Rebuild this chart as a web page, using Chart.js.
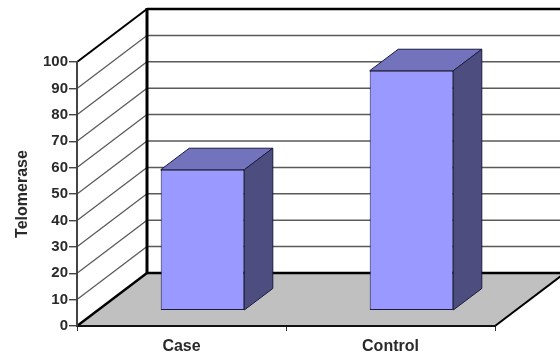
<!DOCTYPE html>
<html>
<head>
<meta charset="utf-8">
<script src="https://cdn.jsdelivr.net/npm/chart.js@4/dist/chart.umd.js"></script>
<style>
html,body{margin:0;padding:0;background:#fff;}
canvas{display:block;}
</style>
</head>
<body>
<canvas id="chart" width="560" height="354"></canvas>
<script>
const categories = ['Case', 'Control'];
const telomerase = [53.4, 90.9];
const axisMin = 0;
const axisMax = 100;
const axisStep = 10;

// Oblique projection of the box: floor depth, and how far bars sit inside it.
const WALL_DX = 70, WALL_DY = -53;
const BAR_DX = 21, BAR_DY = -15.3;
const SIDE_DX = 28.5, SIDE_DY = -21.5;

const FLOOR = '#c0c0c0';
const BAR_FRONT = '#9999ff';
const BAR_TOP = '#7272bd';
const BAR_SIDE = '#4d4d80';
const BAR_EDGE = '#1c1c40';
const GRID = '#5a5a5a';
const INK = '#2a2a2a';

function line(ctx, x1, y1, x2, y2, color, width) {
  ctx.beginPath();
  ctx.moveTo(x1, y1);
  ctx.lineTo(x2, y2);
  ctx.strokeStyle = color;
  ctx.lineWidth = width;
  ctx.stroke();
}

function poly(ctx, pts, fill, edge) {
  ctx.beginPath();
  pts.forEach((p, i) => i ? ctx.lineTo(p[0], p[1]) : ctx.moveTo(p[0], p[1]));
  ctx.closePath();
  ctx.fillStyle = fill;
  ctx.fill();
  if (edge) {
    ctx.strokeStyle = edge;
    ctx.lineWidth = 1;
    ctx.lineJoin = 'round';
    ctx.stroke();
  }
}

// Floor, back wall and side wall, laid out from the value scale.
const box3d = {
  id: 'box3d',
  beforeDraw(chart) {
    const { ctx, scales: { x, y }, chartArea: a } = chart;
    const yBase = y.getPixelForValue(axisMin);
    const yTop = y.getPixelForValue(axisMax);
    const backX = a.left + WALL_DX;
    ctx.save();
    poly(ctx, [[a.left, yBase], [a.right, yBase], [a.right + WALL_DX, yBase + WALL_DY], [backX, yBase + WALL_DY]], FLOOR);
    y.ticks.forEach(t => {
      if (t.value === axisMin || t.value === axisMax) return;
      const py = y.getPixelForValue(t.value);
      line(ctx, a.left, py, backX, py + WALL_DY, GRID, 1.3);
      line(ctx, backX, py + WALL_DY, chart.width, py + WALL_DY, GRID, 1.5);
    });
    line(ctx, a.left, yTop, backX, yTop + WALL_DY, '#000', 2);
    line(ctx, backX, yTop + WALL_DY, chart.width, yTop + WALL_DY, '#000', 2.4);
    line(ctx, backX, yTop + WALL_DY - 1, backX, yBase + WALL_DY, '#000', 3);
    line(ctx, backX, yBase + WALL_DY, chart.width, yBase + WALL_DY, '#000', 2.4);
    line(ctx, a.left, yBase, backX, yBase + WALL_DY, '#000', 2.4);
    line(ctx, a.right, yBase, a.right + WALL_DX, yBase + WALL_DY, '#000', 2);
    ctx.restore();
  },
  // The library's bars form the front faces; slide them into the box.
  beforeDatasetDraw(chart) {
    chart.ctx.save();
    chart.ctx.translate(BAR_DX, BAR_DY);
  },
  afterDatasetDraw(chart, args) {
    const { ctx } = chart;
    chart.getDatasetMeta(args.index).data.forEach(bar => {
      const l = bar.x - bar.width / 2, r = bar.x + bar.width / 2;
      const t = bar.y, b = bar.base;
      poly(ctx, [[l, t], [r, t], [r + SIDE_DX, t + SIDE_DY], [l + SIDE_DX, t + SIDE_DY]], BAR_TOP, BAR_EDGE);
      poly(ctx, [[r, t], [r + SIDE_DX, t + SIDE_DY], [r + SIDE_DX, b + SIDE_DY], [r, b]], BAR_SIDE, BAR_EDGE);
    });
    ctx.restore();
  }
};

new Chart(document.getElementById('chart'), {
  type: 'bar',
  data: {
    labels: categories,
    datasets: [{
      label: 'Telomerase',
      data: telomerase,
      backgroundColor: BAR_FRONT,
      borderColor: BAR_EDGE,
      borderWidth: 1,
      borderSkipped: false,
      categoryPercentage: 1,
      barPercentage: 0.4
    }]
  },
  plugins: [box3d],
  options: {
    responsive: false,
    animation: false,
    layout: { padding: { top: 62, right: 65, left: 0, bottom: 0 } },
    plugins: { legend: { display: false }, tooltip: { enabled: false } },
    scales: {
      x: {
        afterFit(s) { s.height = 28; },
        grid: { drawOnChartArea: false, drawTicks: true, tickLength: 5, color: '#333', lineWidth: 1 },
        border: { display: true, color: '#111', width: 2 },
        ticks: { color: INK, padding: 6, maxRotation: 0, font: { family: 'Liberation Sans', size: 16, weight: 'bold' } }
      },
      y: {
        min: axisMin,
        max: axisMax,
        afterFit(s) { s.width = 77; },
        grid: { drawOnChartArea: false, drawTicks: true, tickLength: 8, color: '#444', lineWidth: 1.4 },
        border: { display: true, color: '#444', width: 2 },
        ticks: { stepSize: axisStep, color: INK, padding: 1, font: { family: 'Liberation Sans', size: 15, weight: 'bold' } },
        title: { display: true, text: 'Telomerase', color: INK, padding: { top: 13, bottom: 0 }, font: { family: 'Liberation Sans', size: 16, weight: 'bold' } }
      }
    }
  }
});
</script>
</body>
</html>
